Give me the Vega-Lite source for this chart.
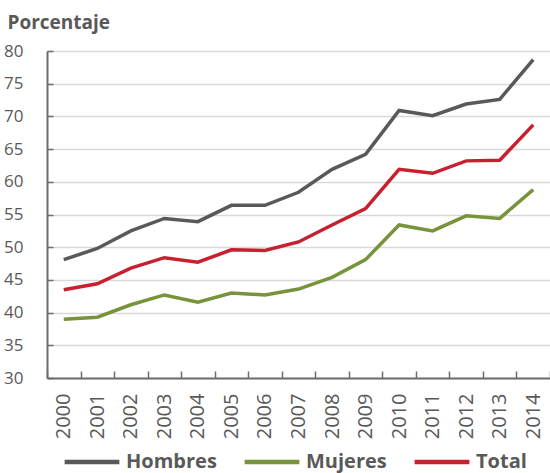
{
  "$schema": "https://vega.github.io/schema/vega-lite/v6.json",
  "width": 503,
  "height": 327,
  "autosize": {"type": "none"},
  "padding": {"left": 47, "top": 51, "right": 0, "bottom": 95},
  "background": "white",
  "config": {
    "view": {"stroke": null},
    "font": "Open Sans",
    "axis": {"labelColor": "#595959", "titleColor": "#595959", "domainColor": "#6d6d6d", "tickColor": "#6d6d6d", "domainWidth": 2, "tickWidth": 1.5}
  },
  "data": {
    "values": [
      {"year": "2000", "serie": "Hombres", "v": 48.1},
      {"year": "2001", "serie": "Hombres", "v": 49.8},
      {"year": "2002", "serie": "Hombres", "v": 52.5},
      {"year": "2003", "serie": "Hombres", "v": 54.4},
      {"year": "2004", "serie": "Hombres", "v": 53.9},
      {"year": "2005", "serie": "Hombres", "v": 56.4},
      {"year": "2006", "serie": "Hombres", "v": 56.4},
      {"year": "2007", "serie": "Hombres", "v": 58.4},
      {"year": "2008", "serie": "Hombres", "v": 61.9},
      {"year": "2009", "serie": "Hombres", "v": 64.2},
      {"year": "2010", "serie": "Hombres", "v": 70.9},
      {"year": "2011", "serie": "Hombres", "v": 70.1},
      {"year": "2012", "serie": "Hombres", "v": 71.9},
      {"year": "2013", "serie": "Hombres", "v": 72.6},
      {"year": "2014", "serie": "Hombres", "v": 78.7},
      {"year": "2000", "serie": "Mujeres", "v": 39.0},
      {"year": "2001", "serie": "Mujeres", "v": 39.3},
      {"year": "2002", "serie": "Mujeres", "v": 41.2},
      {"year": "2003", "serie": "Mujeres", "v": 42.7},
      {"year": "2004", "serie": "Mujeres", "v": 41.6},
      {"year": "2005", "serie": "Mujeres", "v": 43.0},
      {"year": "2006", "serie": "Mujeres", "v": 42.7},
      {"year": "2007", "serie": "Mujeres", "v": 43.6},
      {"year": "2008", "serie": "Mujeres", "v": 45.4},
      {"year": "2009", "serie": "Mujeres", "v": 48.1},
      {"year": "2010", "serie": "Mujeres", "v": 53.4},
      {"year": "2011", "serie": "Mujeres", "v": 52.5},
      {"year": "2012", "serie": "Mujeres", "v": 54.8},
      {"year": "2013", "serie": "Mujeres", "v": 54.4},
      {"year": "2014", "serie": "Mujeres", "v": 58.8},
      {"year": "2000", "serie": "Total", "v": 43.5},
      {"year": "2001", "serie": "Total", "v": 44.4},
      {"year": "2002", "serie": "Total", "v": 46.8},
      {"year": "2003", "serie": "Total", "v": 48.4},
      {"year": "2004", "serie": "Total", "v": 47.7},
      {"year": "2005", "serie": "Total", "v": 49.6},
      {"year": "2006", "serie": "Total", "v": 49.5},
      {"year": "2007", "serie": "Total", "v": 50.8},
      {"year": "2008", "serie": "Total", "v": 53.4},
      {"year": "2009", "serie": "Total", "v": 55.9},
      {"year": "2010", "serie": "Total", "v": 61.9},
      {"year": "2011", "serie": "Total", "v": 61.3},
      {"year": "2012", "serie": "Total", "v": 63.2},
      {"year": "2013", "serie": "Total", "v": 63.3},
      {"year": "2014", "serie": "Total", "v": 68.7}
    ]
  },
  "mark": {"type": "line", "strokeWidth": 3.5},
  "encoding": {
    "x": {
      "field": "year", "type": "ordinal",
      "scale": {"type": "band", "paddingInner": 0, "paddingOuter": 0},
      "axis": {"title": null, "labelAngle": -90, "labelFontSize": 20, "tickBand": "extent", "tickSize": -7, "labelPadding": 22, "grid": false}
    },
    "y": {
      "field": "v", "type": "quantitative",
      "scale": {"domain": [30, 80], "nice": false, "zero": false},
      "axis": {
        "values": [30, 35, 40, 45, 50, 55, 60, 65, 70, 75, 80],
        "labelFontSize": 17, "tickSize": -6, "labelPadding": 30,
        "grid": true, "gridColor": "#d9d9d9", "gridWidth": 1.5,
        "title": "Porcentaje", "titleAngle": 0, "titleAlign": "left", "titleBaseline": "alphabetic",
        "titleX": -40, "titleY": -23, "titleFontSize": 19, "titleFontWeight": "bold"
      }
    },
    "color": {
      "field": "serie", "type": "nominal",
      "scale": {"domain": ["Hombres", "Mujeres", "Total"], "range": ["#58595b", "#77933c", "#c8202f"]},
      "legend": {
        "title": null, "orient": "none", "direction": "horizontal",
        "legendX": 15, "legendY": 381,
        "symbolType": "M-1,0H1", "symbolSize": 3000, "symbolStrokeWidth": 4.5,
        "labelFontSize": 20, "labelFontWeight": "bold", "labelColor": "#595959",
        "columnPadding": 18, "labelOffset": 4
      }
    }
  }
}
